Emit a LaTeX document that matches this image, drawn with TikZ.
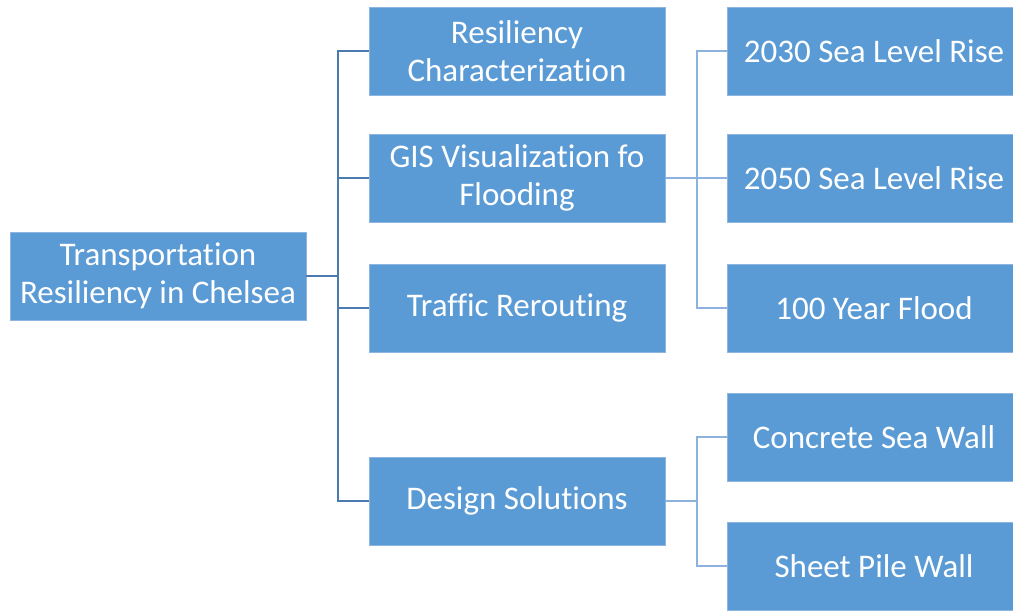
\documentclass[tikz,border=0pt]{standalone}
\usepackage{fontspec}
\setmainfont{Carlito}[Ligatures=NoCommon]
\definecolor{boxblue}{HTML}{5B9BD5}
\definecolor{edgeblue}{HTML}{8EB4E0}
\definecolor{linedark}{HTML}{4A7AAE}
\definecolor{linelight}{HTML}{8DB2DE}
\begin{document}
\begin{tikzpicture}[x=1pt,y=-1pt,
  box/.style={draw=edgeblue,line width=0.8pt,fill=boxblue,text=white,
    align=center,inner sep=0pt,minimum height=88pt,
    font=\fontsize{33}{38}\selectfont},
  wbox/.style={box,minimum width=296pt},
  rbox/.style={box,minimum width=294pt},
  conndark/.style={draw=linedark,line width=1.8pt},
  connlight/.style={draw=linelight,line width=1.8pt}]
\useasboundingbox (0,0) rectangle (1013,611);
\fill[white] (0,0) rectangle (1013,611);
% root
\node[wbox] (root) at (158,276) {Transportation\\Resiliency in Chelsea};
% first level
\node[wbox] (rc) at (517,51) {Resiliency\\Characterization};
\node[wbox] (gis) at (517,178) {GIS Visualization fo\\Flooding};
\node[wbox] (tr) at (517,308) {Traffic Rerouting};
\node[wbox] (ds) at (517,501) {Design Solutions};
% second level
\node[rbox] (s30) at (874,51) {2030 Sea Level Rise};
\node[rbox] (s50) at (874,178) {2050 Sea Level Rise};
\node[rbox] (f100) at (874,308) {100 Year Flood};
\node[rbox] (csw) at (874,437) {Concrete Sea Wall};
\node[rbox] (spw) at (874,566) {Sheet Pile Wall};
% junctions
\coordinate (j1) at (338,276);
\coordinate (j2) at (697,178);
\coordinate (j3) at (697,501);
% connectors from root
\draw[conndark] (root.east) -- (j1);
\draw[conndark] (rc.west) -| (j1);
\draw[conndark] (gis.west) -| (j1);
\draw[conndark] (tr.west) -| (j1);
\draw[conndark] (ds.west) -| (j1);
% connectors from GIS
\draw[connlight] (gis.east) -- (j2);
\draw[connlight] (s30.west) -| (j2);
\draw[connlight] (s50.west) -- (j2);
\draw[connlight] (f100.west) -| (j2);
% connectors from design solutions
\draw[connlight] (ds.east) -- (j3);
\draw[connlight] (csw.west) -| (j3);
\draw[connlight] (spw.west) -| (j3);
\end{tikzpicture}
\end{document}
